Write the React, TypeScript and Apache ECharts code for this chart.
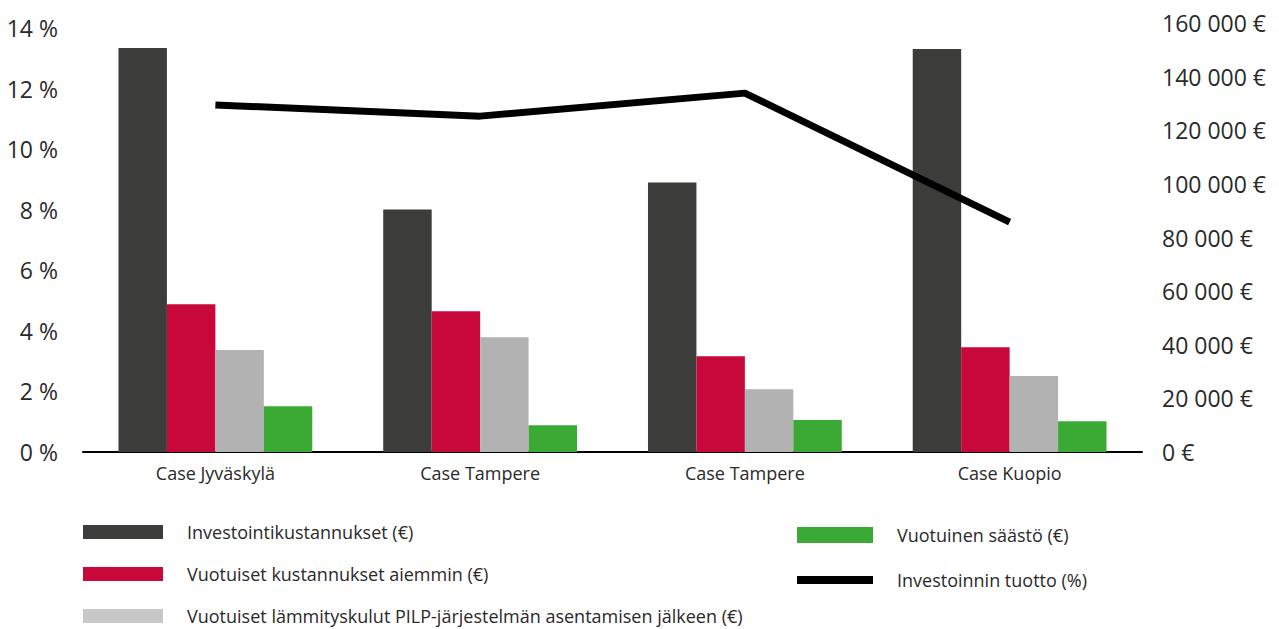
import React, { useEffect, useRef } from "react";
import * as echarts from "echarts";

const categories = ["Case Jyväskylä", "Case Tampere", "Case Tampere", "Case Kuopio"];
const seriesNames = [
  "Investointikustannukset (€)",
  "Vuotuiset kustannukset aiemmin (€)",
  "Vuotuiset lämmityskulut PILP-järjestelmän asentamisen jälkeen (€)",
  "Vuotuinen säästö (€)",
  "Investoinnin tuotto (%)",
];
const investment = [150700, 90400, 100500, 150300];
const costsBefore = [55100, 52500, 35700, 39100];
const costsAfter = [38000, 42800, 23400, 28300];
const savings = [17100, 10000, 11900, 11500];
const returnPct = [11.46, 11.09, 11.85, 7.59];
const colors = ["#3c3c3b", "#c8083a", "#b2b2b2", "#3aaa35", "#000000"];

const FONT = "'Open Sans', 'Noto Sans', sans-serif";

function fmtEuro(v: number): string {
  const s = Math.round(v).toString().replace(/\B(?=(\d{3})+(?!\d))/g, " ");
  return s + " €";
}

export default function App() {
  const ref = useRef<HTMLDivElement>(null);
  useEffect(() => {
    document.body.style.margin = "0";
    const chart = echarts.init(ref.current!, null, { renderer: "svg" });
    const barData = [investment, costsBefore, costsAfter, savings];
    const bars = barData.map((d, i) => ({
      name: seriesNames[i],
      type: "bar",
      yAxisIndex: 1,
      data: d,
      barGap: "0%",
      barCategoryGap: "26.8%",
      itemStyle: { color: colors[i] },
    }));
    const legendText = {
      fontSize: 18,
      color: "#2a2a2a",
      fontFamily: FONT,
      padding: [0, 0, 0, 19],
    };
    chart.setOption({
      animation: false,
      textStyle: { fontFamily: FONT },
      grid: { left: 83, right: 137, top: 23, bottom: 177 },
      legend: [
        {
          orient: "vertical",
          left: 83,
          top: 523,
          height: 120,
          padding: 0,
          itemWidth: 80,
          itemHeight: 14,
          itemGap: 24,
          icon: "rect",
          textStyle: legendText,
          data: [
            { name: seriesNames[0] },
            { name: seriesNames[1] },
            { name: seriesNames[2], itemStyle: { color: "#c8c8c8" } },
          ],
          selectedMode: false,
        },
        {
          orient: "vertical",
          left: 797,
          top: 526,
          height: 40,
          padding: 0,
          itemWidth: 76,
          itemHeight: 16,
          icon: "rect",
          textStyle: legendText,
          data: [{ name: seriesNames[3] }],
          selectedMode: false,
        },
        {
          orient: "vertical",
          left: 797,
          top: 571,
          height: 40,
          padding: 0,
          itemWidth: 76,
          itemHeight: 8,
          icon: "rect",
          textStyle: legendText,
          data: [{ name: seriesNames[4], itemStyle: { color: "#000" } }],
          selectedMode: false,
        },
      ],
      xAxis: {
        type: "category",
        data: categories,
        axisLine: { lineStyle: { color: "#000", width: 2 } },
        axisTick: { show: false },
        axisLabel: { fontSize: 18, color: "#2a2a2a", margin: 12, fontFamily: FONT },
      },
      yAxis: [
        {
          type: "value",
          min: 0,
          max: 14.165,
          interval: 2,
          splitLine: { show: false },
          axisLine: { show: false },
          axisTick: { show: false },
          axisLabel: {
            showMaxLabel: false,
            fontSize: 23,
            color: "#2a2a2a",
            margin: 25,
            fontFamily: FONT,
            formatter: (v: number) => v + " %",
          },
        },
        {
          type: "value",
          min: 0,
          max: 160000,
          interval: 20000,
          splitLine: { show: false },
          axisLine: { show: false },
          axisTick: { show: false },
          axisLabel: {
            fontSize: 23,
            color: "#2a2a2a",
            margin: 20,
            fontFamily: FONT,
            formatter: (v: number) => fmtEuro(v),
          },
        },
      ],
      series: [
        ...bars,
        {
          name: seriesNames[4],
          type: "line",
          yAxisIndex: 0,
          data: returnPct,
          symbol: "none",
          showSymbol: false,
          lineStyle: { color: colors[4], width: 7 },
          itemStyle: { color: colors[4] },
          z: 5,
        },
      ],
    });
    return () => chart.dispose();
  }, []);
  return <div ref={ref} style={{ width: 1279, height: 629 }} />;
}
